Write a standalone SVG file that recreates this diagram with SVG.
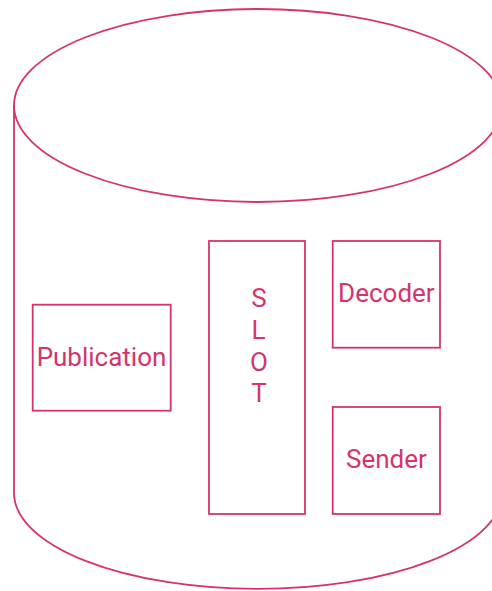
<svg xmlns="http://www.w3.org/2000/svg" width="492" height="591" viewBox="0 0 492 591">
  <style>
    .shape { fill: none; stroke: #d6336c; stroke-width: 1.8; }
    .label { fill: #d6336c; font-family: Roboto, "Liberation Sans", sans-serif; font-size: 26px; text-anchor: middle; }
  </style>
  <rect width="492" height="591" fill="#ffffff"/>
  <!-- database cylinder -->
  <g id="cylinder">
    <ellipse class="shape" cx="258" cy="105.5" rx="244" ry="96.5"/>
    <path class="shape" d="M14,105.5 L14,493 A244,96 0 0,0 502,493 L502,105.5"/>
  </g>
  <g id="publication">
    <rect class="shape" x="32.7" y="304.7" width="138" height="106"/>
    <text class="label" x="101.5" y="366">Publication</text>
  </g>
  <g id="slot">
    <rect class="shape" x="209" y="241" width="96" height="273"/>
    <text class="label" x="259" y="307">S</text>
    <text class="label" x="258.5" y="339">L</text>
    <text class="label" x="259" y="371">O</text>
    <text class="label" x="259" y="402">T</text>
  </g>
  <g id="decoder">
    <rect class="shape" x="332.7" y="241" width="107.3" height="106.7"/>
    <text class="label" x="386.4" y="302">Decoder</text>
  </g>
  <g id="sender">
    <rect class="shape" x="332.7" y="407" width="107.3" height="107"/>
    <text class="label" x="386.4" y="468">Sender</text>
  </g>
  <g id="connectors"/>
</svg>
